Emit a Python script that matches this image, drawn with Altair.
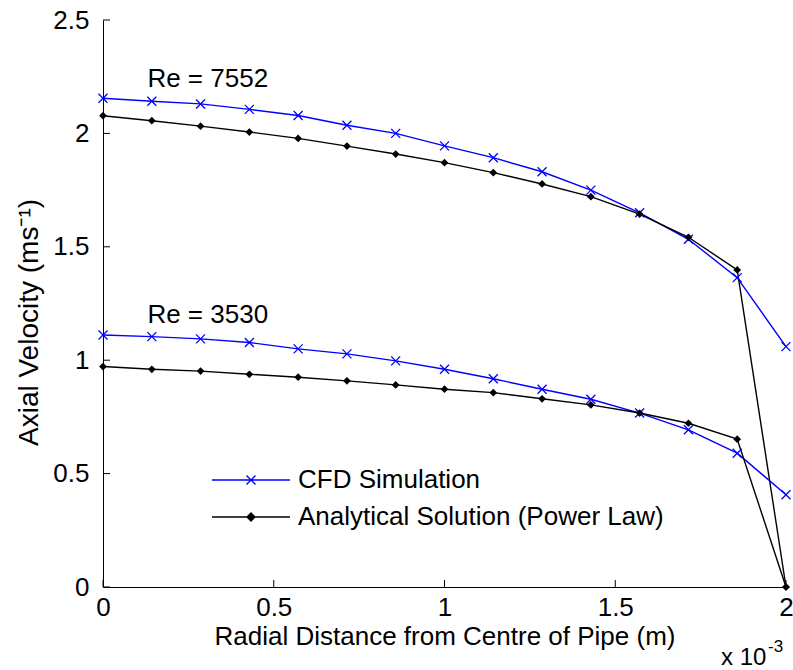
import altair as alt
import pandas as pd

# Radial positions (m) at which both profiles are sampled
radius_m = [0.0, 0.1429e-3, 0.2857e-3, 0.4286e-3, 0.5714e-3, 0.7143e-3, 0.8571e-3,
            1.0e-3, 1.1429e-3, 1.2857e-3, 1.4286e-3, 1.5714e-3, 1.7143e-3, 1.8571e-3, 2.0e-3]

# Axial velocity (m/s), Re = 7552
cfd_7552 = [2.155, 2.142, 2.130, 2.106, 2.079, 2.036, 2.000, 1.945, 1.893, 1.831,
            1.750, 1.650, 1.533, 1.364, 1.060]
power_law_7552 = [2.078, 2.056, 2.032, 2.006, 1.978, 1.944, 1.909, 1.871, 1.827, 1.777,
                  1.721, 1.644, 1.542, 1.398, 0.0]

# Axial velocity (m/s), Re = 3530
cfd_3530 = [1.111, 1.104, 1.094, 1.078, 1.050, 1.028, 0.997, 0.960, 0.918, 0.872,
            0.828, 0.767, 0.693, 0.590, 0.407]
power_law_3530 = [0.972, 0.960, 0.952, 0.938, 0.925, 0.909, 0.891, 0.872, 0.857, 0.830,
                  0.803, 0.767, 0.722, 0.652, 0.0]

series_names = ["CFD Simulation", "Analytical Solution (Power Law)"]
series_colors = ["#0000ff", "#000000"]
series_fills = ["transparent", "#000000"]

re_labels = ["Re = 7552", "Re = 3530"]
re_label_r = [0.13e-3, 0.13e-3]
re_label_u = [2.24, 1.20]

x_ticks = [0.0, 0.5e-3, 1.0e-3, 1.5e-3, 2.0e-3]
y_ticks = [0.0, 0.5, 1.0, 1.5, 2.0, 2.5]

FONT = "Liberation Sans"
FS = 26
W, H = 683, 567
TICK_LEN = 7

rows = []
for case, cfd, pl in [("7552", cfd_7552, power_law_7552), ("3530", cfd_3530, power_law_3530)]:
    for r, v in zip(radius_m, cfd):
        rows.append({"r": r, "u": v, "series": series_names[0], "curve": "cfd" + case})
    for r, v in zip(radius_m, pl):
        rows.append({"r": r, "u": v, "series": series_names[1], "curve": "pl" + case})
df = pd.DataFrame(rows)

x_scale = alt.Scale(domain=[0, 2.0e-3], nice=False, zero=False)
y_scale = alt.Scale(domain=[0, 2.5], nice=False, zero=False)

x_axis = alt.Axis(
    values=x_ticks, labelExpr="format(datum.value * 1000, '.1~f')",
    title="Radial Distance from Centre of Pipe (m)",
    ticks=False, tickSize=0, grid=False, domainColor="black", domainWidth=1,
    labelPadding=7, titlePadding=3, labelFlush=False, labelOverlap=False,
)
y_axis = alt.Axis(
    values=y_ticks, format=".1~f", title="Axial Velocity (ms\u207b\u00b9)",
    ticks=False, tickSize=0, grid=False, domainColor="black", domainWidth=1,
    labelPadding=14, titlePadding=9, labelFlush=False, labelOverlap=False,
    titleFontSize=28, titleY=302,
)

base = alt.Chart(df)

lines = base.mark_line(strokeWidth=1.4).encode(
    x=alt.X("r:Q", scale=x_scale, axis=x_axis),
    y=alt.Y("u:Q", scale=y_scale, axis=y_axis),
    color=alt.Color("series:N", scale=alt.Scale(domain=series_names, range=series_colors), legend=None),
    detail="curve:N",
)

X_PATH = "M-1,-1L1,1M1,-1L-1,1"
cfd_pts = base.transform_filter(alt.datum.series == series_names[0]).mark_point(
    shape=X_PATH, filled=False, color=series_colors[0], size=81, strokeWidth=1.3, opacity=1
).encode(x=alt.X("r:Q", scale=x_scale), y=alt.Y("u:Q", scale=y_scale))

pl_pts = base.transform_filter(alt.datum.series == series_names[1]).mark_point(
    shape="diamond", filled=True, color=series_colors[1], size=60, opacity=1
).encode(x=alt.X("r:Q", scale=x_scale), y=alt.Y("u:Q", scale=y_scale))

# Legend: a line sample with the series marker drawn on top of it
legend_paths = [
    "M-7.8,0H7.8M-0.9,-0.9L0.9,0.9M0.9,-0.9L-0.9,0.9",
    "M-7.8,0H7.8M0,-0.8L0.8,0L0,0.8L-0.8,0Z",
]
leg = alt.Legend(
    orient="none", legendX=135, legendY=447, title=None, padding=0,
    labelFont=FONT, labelFontSize=FS, labelColor="black", labelOffset=34,
    symbolSize=100, symbolStrokeWidth=1.4, symbolOpacity=1,
    rowPadding=11, labelLimit=600,
)
legend_layer = alt.Chart(pd.DataFrame({"series": series_names})).mark_point(
    filled=False, strokeWidth=1.4
).encode(
    color=alt.Color("series:N", scale=alt.Scale(domain=series_names, range=series_colors), legend=leg),
    fill=alt.Fill("series:N", scale=alt.Scale(domain=series_names, range=series_fills), legend=leg),
    shape=alt.Shape("series:N", scale=alt.Scale(domain=series_names, range=legend_paths), legend=leg),
    opacity=alt.value(0),
)

x_tick_marks = alt.Chart(pd.DataFrame({"r": x_ticks})).mark_rule(color="black", strokeWidth=1).encode(
    x=alt.X("r:Q", scale=x_scale), y=alt.value(H), y2=alt.value(H - TICK_LEN)
)
y_tick_marks = alt.Chart(pd.DataFrame({"u": y_ticks})).mark_rule(color="black", strokeWidth=1).encode(
    y=alt.Y("u:Q", scale=y_scale), x=alt.value(0), x2=alt.value(TICK_LEN)
)

re_text = alt.Chart(pd.DataFrame({"r": re_label_r, "u": re_label_u, "label": re_labels})).mark_text(
    align="left", baseline="middle", font=FONT, fontSize=FS, color="black"
).encode(x=alt.X("r:Q", scale=x_scale), y=alt.Y("u:Q", scale=y_scale), text="label:N")

# Axis multiplier "x 10^-3" below the right end of the x axis
mult_base = alt.Chart(pd.DataFrame({"t": ["x 10"]})).mark_text(
    align="left", baseline="alphabetic", font=FONT, fontSize=24, color="black"
).encode(x=alt.value(618), y=alt.value(645), text="t:N")
mult_exp = alt.Chart(pd.DataFrame({"t": ["-3"]})).mark_text(
    align="left", baseline="alphabetic", font=FONT, fontSize=17, color="black"
).encode(x=alt.value(665), y=alt.value(632), text="t:N")

chart = alt.layer(
    x_tick_marks, y_tick_marks, lines, cfd_pts, pl_pts, legend_layer, re_text, mult_base, mult_exp
).resolve_scale(color="independent", shape="independent", fill="independent").properties(
    width=W, height=H,
    padding={"left": 103, "top": 20, "right": 7, "bottom": 83},
    autosize=alt.AutoSizeParams(type="none"),
    background="white",
).configure_view(stroke=None).configure_axis(
    labelFont=FONT, titleFont=FONT, labelFontSize=FS, titleFontSize=FS,
    labelColor="black", titleColor="black", titleFontWeight="normal",
)

chart.save("out.html", embed_options={"renderer": "svg", "actions": False})
